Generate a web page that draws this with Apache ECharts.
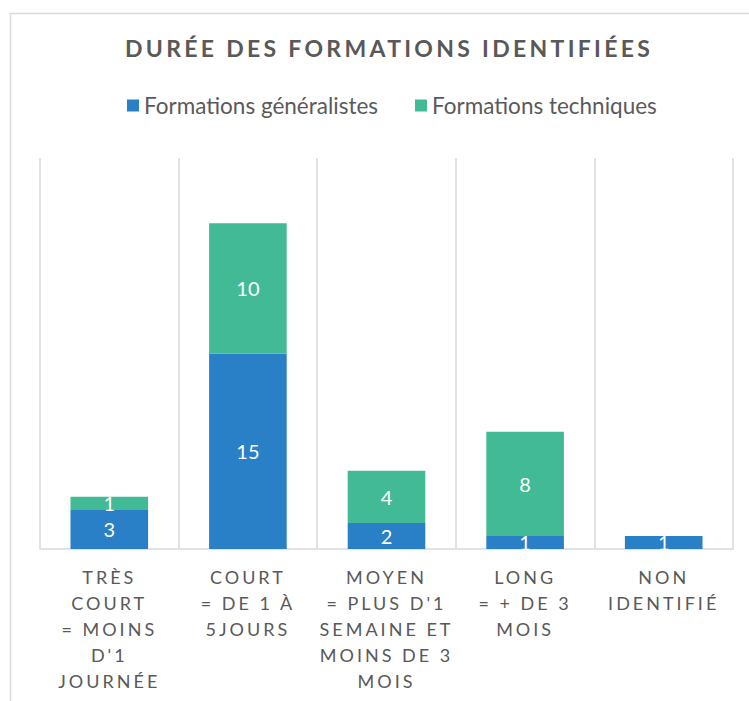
<!DOCTYPE html>
<html><head><meta charset="utf-8">
<script src="https://cdn.jsdelivr.net/npm/echarts@6/dist/echarts.min.js"></script>
<style>
html,body{margin:0;padding:0;background:#fff;}
#c{width:749px;height:701px;}
#c text[fill="#595958"]{letter-spacing:3.3px;}
#c text[fill="#595959"]{letter-spacing:3px;}
</style></head><body><div id="c"></div>
<script>
const categories = [
  "TRÈS\nCOURT\n= MOINS\nD'1\nJOURNÉE",
  "COURT\n= DE 1 À\n5JOURS",
  "MOYEN\n= PLUS D'1\nSEMAINE ET\nMOINS DE 3\nMOIS",
  "LONG\n= + DE 3\nMOIS",
  "NON\nIDENTIFIÉ"
];
const seriesNames = ["Formations généralistes", "Formations techniques"];
const generalistes = [3, 15, 2, 1, 1];
const techniques = [1, 10, 4, 8, null];

const chart = echarts.init(document.getElementById('c'), null, {renderer: 'svg'});
const labelStyle = {show: true, position: 'inside', color: '#ffffff', fontSize: 20, fontFamily: 'Lato'};
chart.setOption({
  animation: false,
  backgroundColor: '#ffffff',
  graphic: [{
    type: 'rect', left: 8, top: 11, shape: {width: 900, height: 900},
    style: {fill: 'none', stroke: '#d9d9d9', lineWidth: 1.5}, silent: true
  }],
  title: {
    text: 'DURÉE DES FORMATIONS IDENTIFIÉES',
    left: 120, top: 31,
    textStyle: {color: '#595958', fontSize: 23, fontWeight: 'bold', fontFamily: 'Lato'}
  },
  legend: {
    data: seriesNames, left: 122, top: 89,
    itemWidth: 12, itemHeight: 12, itemGap: 37,
    icon: 'rect',
    textStyle: {color: '#5a5a5a', fontSize: 22.5, fontFamily: 'Lato', padding: [0, 0, 0, 0]}
  },
  grid: {left: 40, right: 16, top: 158, bottom: 152, containLabel: false},
  xAxis: {
    type: 'category', data: categories,
    axisLine: {lineStyle: {color: '#d9d9d9', width: 1.5}},
    axisTick: {show: false},
    splitLine: {show: true, lineStyle: {color: '#d9d9d9', width: 1.5}},
    axisLabel: {color: '#595959', fontSize: 18, lineHeight: 26, margin: 15, fontFamily: 'Lato', interval: 0}
  },
  yAxis: {type: 'value', min: 0, max: 30, show: false, splitLine: {show: false}},
  series: [
    {name: seriesNames[0], type: 'bar', stack: 's', data: generalistes, barWidth: '56%',
     itemStyle: {color: '#2a80c7'}, label: labelStyle},
    {name: seriesNames[1], type: 'bar', stack: 's', data: techniques, barWidth: '56%',
     itemStyle: {color: '#43ba96'}, label: labelStyle}
  ]
});
</script></body></html>
